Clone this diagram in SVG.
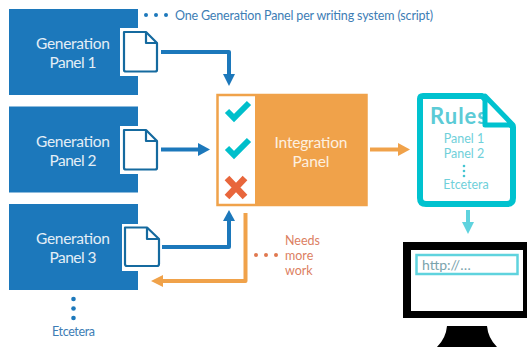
<svg xmlns="http://www.w3.org/2000/svg" width="527" height="347" viewBox="0 0 527 347">
<style>
text{font-family:Lato,"Noto Sans",sans-serif}
.gp{fill:#1c78bb}
.gt{fill:#e3eef6;font-size:15.500px;text-anchor:middle}
.cut{fill:#fff}
.doc{fill:#fff;stroke:#156a9f;stroke-width:2.2;stroke-linejoin:round}
.fold{fill:none;stroke:#156a9f;stroke-width:2.2;stroke-linejoin:round}
.b{fill:none;stroke:#1c78bb;stroke-width:4;stroke-linejoin:round}
.o{fill:none;stroke:#f0a24a;stroke-width:4;stroke-linejoin:round}
.c{fill:none;stroke:#5fd3de;stroke-width:4}
.bf{fill:#1c78bb}.of{fill:#f0a24a}.cf{fill:#5fd3de}
.d1{fill:#1c78bb}.d2{fill:#e0784f}.d3{fill:#45c5d2}
.blue{fill:#3d7db5;font-size:12.500px}
.red{fill:#dc8062;font-size:12.500px}
.teal{fill:#6fd0da;font-size:12.500px;text-anchor:middle}
.chk{fill:none;stroke:#00bfcb;stroke-width:6}
.x{fill:none;stroke:#e8663c;stroke-width:6.5}
</style>
<g id="note">
<circle class="d1" cx="146" cy="15" r="2"/><circle class="d1" cx="156" cy="15" r="2"/><circle class="d1" cx="166" cy="15" r="2"/>
<text class="blue" x="175" y="20" textLength="258">One Generation Panel per writing system (script)</text>
</g>
<g id="panel1">
<rect class="gp" x="9" y="9" width="129" height="86"/>
<text class="gt" x="73" y="49" textLength="74">Generation</text><text class="gt" x="73" y="68" textLength="47">Panel 1</text>
<rect class="cut" x="120" y="28" width="18" height="48"/>
<path class="doc" d="M124 32H146L157 43V70Q157 71.500 155 71.500H126Q124 71.500 124 70Z"/><path class="fold" d="M146 32V43H157"/>
</g>
<g id="panel2">
<rect class="gp" x="9" y="106.500" width="129" height="86"/>
<text class="gt" x="73" y="147" textLength="74">Generation</text><text class="gt" x="73" y="166" textLength="47">Panel 2</text>
<rect class="cut" x="120" y="126" width="18" height="48"/>
<path class="doc" d="M124 130H146L157 141V168Q157 169.500 155 169.500H126Q124 169.500 124 168Z"/><path class="fold" d="M146 130V141H157"/>
</g>
<g id="panel3">
<rect class="gp" x="9" y="204" width="129" height="86"/>
<text class="gt" x="73" y="244" textLength="74">Generation</text><text class="gt" x="73" y="263" textLength="47">Panel 3</text>
<rect class="cut" x="122" y="224" width="16" height="47"/>
<path class="doc" d="M125 227.500H147L159 239V264Q159 266 157 266H127Q125 266 125 264Z"/><path class="fold" d="M147 227.500V239H159"/>
</g>
<g id="etcetera">
<circle class="d1" cx="73.500" cy="299" r="2.300"/><circle class="d1" cx="73.500" cy="308.500" r="2.300"/><circle class="d1" cx="73.500" cy="318" r="2.300"/>
<text class="blue" x="73.500" y="336" text-anchor="middle" textLength="43">Etcetera</text>
</g>
<g id="integration">
<rect x="217.500" y="95" width="149" height="110" fill="#fff" stroke="#f0a24a" stroke-width="2.500"/>
<rect x="255" y="95" width="112" height="110" fill="#f0a24a"/>
<path class="chk" d="M227 111L234 118L249 103"/>
<path class="chk" d="M227 148L234 155L249 140"/>
<path class="x" d="M227 178L245 197M245 178L227 197"/>
<text class="gt" x="311" y="148" textLength="73" style="fill:#fdf0e0">Integration</text><text class="gt" x="311" y="167" textLength="37" style="fill:#fdf0e0">Panel</text>
</g>
<g id="rules">
<path d="M423 96H482L513 127V198Q513 204 507 204H426Q420 204 420 198V99Q420 96 423 96Z" fill="#fff" stroke="#00c2cf" stroke-width="6" stroke-linejoin="round"/>
<text x="430" y="124" font-size="22" font-weight="700" fill="#5ccbd6" textLength="57">Rules</text>
<path d="M485 96L513 125H485Z" fill="#fff" stroke="#00c2cf" stroke-width="5" stroke-linejoin="round"/>
<text class="teal" x="464" y="143">Panel 1</text><text class="teal" x="464" y="158">Panel 2</text>
<circle class="d3" cx="464" cy="166" r="1.300"/><circle class="d3" cx="464" cy="171" r="1.300"/><circle class="d3" cx="464" cy="176" r="1.300"/>
<text class="teal" x="466" y="189">Etcetera</text>
</g>
<g id="monitor">
<rect x="403" y="242" width="124" height="76" fill="#000"/>
<rect x="411" y="250" width="112" height="61" fill="#fff"/>
<rect x="416.500" y="255" width="101" height="19" fill="#fff" stroke="#5fd3de" stroke-width="2.500"/>
<text x="422" y="270" font-size="14" fill="#7ba4ad">http://…</text>
<path d="M447 326H487Q488 338 497 347H437Q446 338 447 326Z" fill="#000"/>
</g>
<g id="needs">
<circle class="d2" cx="256" cy="255" r="2"/><circle class="d2" cx="266" cy="255" r="2"/><circle class="d2" cx="276" cy="255" r="2"/>
<text class="red" x="285" y="245">Needs</text><text class="red" x="285" y="260">more</text><text class="red" x="285" y="275">work</text>
</g>
<g id="connectors">
<path class="b" d="M161 52H229V75"/><path class="bf" d="M223 74H235L229 86Z"/>
<path class="b" d="M161 149.500H199"/><path class="bf" d="M198 143L210 149.500L198 156Z"/>
<path class="b" d="M162 247H229V220"/><path class="bf" d="M223 221H235L229 210Z"/>
<path class="o" d="M245.500 213V281H162"/><path class="of" d="M163 275V287L151 281Z"/>
<path class="o" d="M370 149.500H399"/><path class="of" d="M398 143L410 149.500L398 156Z"/>
<path class="c" d="M468 210V224"/><path class="cf" d="M462 222H474L468 234Z"/>
</g>
</svg>
